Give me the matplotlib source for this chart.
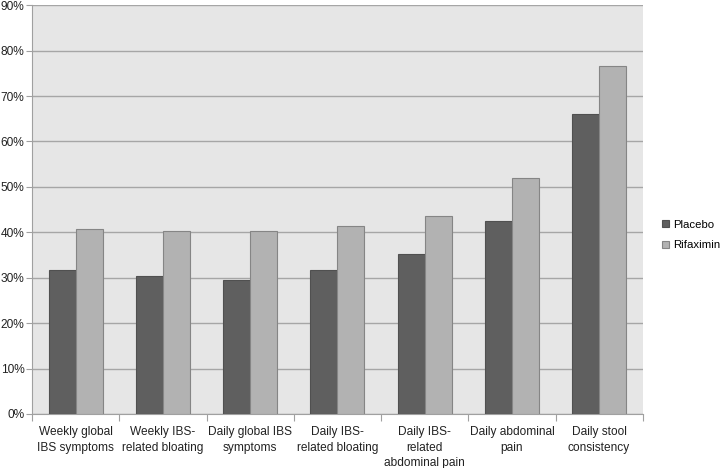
import matplotlib
matplotlib.use("Agg")
import matplotlib.pyplot as plt
import numpy as np

categories = ["Weekly global\nIBS symptoms", "Weekly IBS-\nrelated bloating", "Daily global IBS\nsymptoms",
              "Daily IBS-\nrelated bloating", "Daily IBS-\nrelated\nabdominal pain", "Daily abdominal\npain",
              "Daily stool\nconsistency"]
placebo = [31.7, 30.3, 29.6, 31.7, 35.2, 42.5, 66.0]
rifaximin = [40.7, 40.2, 40.2, 41.4, 43.5, 52.0, 76.5]
yticks = [0, 10, 20, 30, 40, 50, 60, 70, 80, 90]

plt.rcParams['font.family'] = ['Liberation Sans', 'DejaVu Sans']
FS = 8.6

fig = plt.figure(figsize=(7.23, 4.68), dpi=100)
ax = fig.add_axes([0.0443, 0.1154, 0.889 - 0.0443, 0.989 - 0.1154])
ax.set_facecolor("#e6e6e6")

x = np.arange(len(categories))
w = 0.31
ax.bar(x - w/2, placebo, w, color="#5f5f5f", edgecolor="#505050", linewidth=0.8, label="Placebo", zorder=3)
ax.bar(x + w/2, rifaximin, w, color="#b2b2b2", edgecolor="#858585", linewidth=0.8, label="Rifaximin", zorder=3)

ax.set_xlim(-0.5, len(categories) - 0.5)
ax.set_ylim(0, 90)
ax.set_yticks(yticks)
ax.set_yticklabels([f"{v}%" for v in yticks], fontsize=FS, color="#222222")
ax.yaxis.grid(True, color="#a6a6a6", linewidth=1.0, zorder=1)
ax.set_axisbelow(True)

ax.set_xticks(np.arange(len(categories) + 1) - 0.5)
ax.set_xticklabels([])
ax.set_xticks(x, minor=True)
ax.set_xticklabels(categories, minor=True, fontsize=FS, color="#222222", va="top", linespacing=1.35)
ax.tick_params(axis="x", which="minor", length=0, pad=9)
ax.tick_params(axis="x", which="major", length=5, color="#a0a0a0", direction="out")
ax.tick_params(axis="y", length=4, color="#a0a0a0", pad=1.5)

for s in ["top", "right"]:
    ax.spines[s].set_visible(False)
ax.spines["left"].set_color("#a0a0a0")
ax.spines["bottom"].set_color("#a0a0a0")

leg = fig.legend(loc="center left", bbox_to_anchor=(662/723, 1 - 235/468), frameon=False, fontsize=8.2,
                 handlelength=0.65, handleheight=0.65, handletextpad=0.35, labelspacing=0.95,
                 borderpad=0, borderaxespad=0)

fig.savefig("out.png", dpi=100)
